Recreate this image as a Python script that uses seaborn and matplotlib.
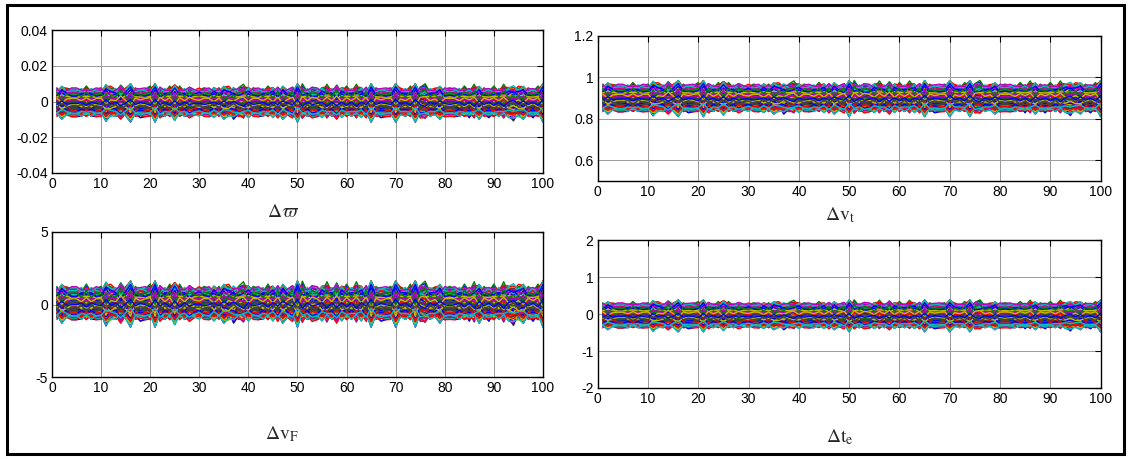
import numpy as np
import pandas as pd
import matplotlib
matplotlib.use("Agg")
import matplotlib.pyplot as plt
from matplotlib.patches import Rectangle
from matplotlib.ticker import FuncFormatter
import seaborn as sns

# sample index (1..100)
steps = list(range(1, 101))

# shared disturbances at each step
spikes = [1, -2, 1, 0, 0, -1, 2, -1, 0, 1,
          -3, 1, -1, 2, 0, -3, 1, -1, 0, 2,
          -3, 1, -1, 2, -2, 2, -1, 1, 0, 0,
          1, 0, -1, 1, -2, 1, -2, 1, 3, -1,
          1, 0, -1, 2, -1, 1, -2, 0, 1, -3,
          3, -1, 1, 0, -1, 3, -1, 2, -1, 2,
          -1, 3, -1, 1, -3, 1, -1, 0, 1, -3,
          1, -1, 2, -3, 1, 3, -1, 1, -2, 0,
          1, 0, -1, 2, -1, 3, -2, 1, -1, 2,
          -1, 3, -1, -3, 1, -2, 1, -1, 2, -3]
drift = [0, 1, 1, -1, -1, 0, 1, 0, -1, 0,
         1, 2, 0, -1, 1, 2, 0, -1, -1, 1,
         2, -1, 0, 1, 2, 1, 0, -1, 0, 1,
         0, -1, 1, 0, 1, 2, -1, 0, 2, 1,
         0, -1, 0, 1, 1, -1, 1, 0, -1, 2,
         1, 0, -1, -1, 1, 2, 0, -1, 1, 1,
         0, 2, 1, -1, 2, 0, -1, -1, 0, 2,
         1, 0, 1, 2, -1, 1, 0, 1, 1, -1,
         0, -1, 0, 1, -1, 2, 1, 0, -1, 1,
         0, 2, 1, -1, 2, 1, 0, -1, 1, 2]

# relative level of each trajectory inside the band (-1 bottom, 1 top)
levels_a = [0.92, -0.85, 0.41, -0.12, 0.67, -0.58, 0.05, 0.78, -0.33, 0.24,
            -0.95, 0.55, -0.71, 0.13, 0.86, -0.22, 0.36, -0.48, 0.97, -0.05,
            0.62, -0.88, 0.19, -0.63, 0.73, -0.28, 0.47, -0.77, 0.09, -0.41,
            0.83, -0.15, 0.31, -0.92, 0.58, -0.53, 0.02, 0.69, -0.37, 0.27,
            -0.67, 0.44, -0.08, 0.89, -0.81, 0.16, -0.45, 0.75, -0.19, 0.51,
            -0.99, 0.38, -0.61, 0.11, 0.94, -0.26, 0.64, -0.74, 0.21, -0.02]
levels_b = [0.88, -0.91, 0.35, -0.18, 0.71, -0.52, 0.00, 0.81, -0.39, 0.29,
            -0.97, 0.60, -0.68, 0.07, 0.90, -0.25, 0.42, -0.44, 0.95, -0.10,
            0.57, -0.83, 0.15, -0.70, 0.77, -0.31, 0.50, -0.79, 0.04, -0.47,
            0.85, -0.20, 0.26, -0.94, 0.63, -0.56, -0.03, 0.66, -0.34, 0.33,
            -0.64, 0.40, -0.13, 0.93, -0.86, 0.19, -0.50, 0.72, -0.23, 0.54,
            -0.96, 0.45, -0.60, 0.17, 0.99, -0.29, 0.60, -0.76, 0.23, -0.07]

# how strongly each trajectory reacts to the disturbances
response_a = [0.9, -0.4, -0.7, 0.5, 0.2, -0.9, 0.8, -0.3, 0.6, -0.6,
              0.8, 0.4, 0.7, -0.2, 0.6, 0.9, -0.5, 0.3, 1.0, -0.7,
              -0.1, 1.0, 0.8, -0.4, 0.3, 0.5, -0.9, 0.1, -0.6, 0.7,
              0.5, -0.8, 0.9, -0.5, -0.3, 0.6, -0.7, 0.2, 0.8, -0.2,
              0.4, -0.6, 1.0, -0.7, -0.9, -0.3, 0.5, -0.1, 0.9, -0.8,
              -0.6, 0.3, 0.7, -0.9, -0.8, 0.2, -0.5, 0.6, -0.4, 0.1]
response_b = [-0.5, 0.7, 0.3, -0.9, 0.6, 0.1, -0.4, 0.8, -0.7, 0.2,
              0.5, -0.6, 0.9, 0.4, -0.3, -0.8, 0.7, 0.1, -0.2, 0.6,
              0.9, -0.4, -0.5, 0.8, -0.1, 0.3, 0.6, -0.9, 0.4, -0.2,
              -0.7, 0.5, 0.2, 0.8, -0.6, -0.3, 0.9, -0.5, 0.1, 0.7,
              -0.8, 0.4, -0.2, 0.6, 0.3, -0.9, 0.5, 0.8, -0.4, 0.2,
              0.7, -0.1, -0.6, 0.5, 0.3, -0.7, 0.9, -0.3, 0.6, -0.5]

# per panel: band centre, band half width, disturbance gain
centres = [-0.0005, 0.90, 0.08, -0.04]
half_widths = [0.0072, 0.060, 1.00, 0.31]
gains = [0.17, 0.16, 0.20, 0.14]

labels = [r"$\Delta\varpi$", r"$\Delta \mathrm{v}_{\mathrm{t}}$",
          r"$\Delta \mathrm{v}_{\mathrm{F}}$", r"$\Delta \mathrm{t}_{\mathrm{e}}$"]
ylims = [(-0.04, 0.04), (0.5, 1.2), (-5, 5), (-2, 2)]
yticks = [[-0.04, -0.02, 0, 0.02, 0.04], [0.6, 0.8, 1.0, 1.2], [-5, 0, 5], [-2, -1, 0, 1, 2]]

matlab_colors = [(0, 0, 1), (0, 0.5, 0), (1, 0, 0), (0, 0.75, 0.75),
                 (0.75, 0, 0.75), (0.75, 0.75, 0), (0.25, 0.25, 0.25)]

sns.set_theme(style="white")
plt.rcParams["font.family"] = ["Liberation Sans", "DejaVu Sans"]
plt.rcParams["axes.unicode_minus"] = False
plt.rcParams["mathtext.fontset"] = "stix"

fig = plt.figure(figsize=(11.3, 4.59), dpi=100)

boxes = [[0.046, 0.6231, 0.4345, 0.3115],
         [0.529, 0.6057, 0.445, 0.3159],
         [0.046, 0.1786, 0.4345, 0.3160],
         [0.529, 0.1547, 0.445, 0.3223]]
label_pos = [(0.251, 0.538), (0.743, 0.532), (0.2496, 0.0545), (0.743, 0.048)]

s1 = np.array(spikes, dtype=float)
s2 = np.array(drift, dtype=float)
fmt = FuncFormatter(lambda v, _: f"{v:g}")

for k in range(4):
    ax = fig.add_axes(boxes[k])
    rows = []
    n = 0
    for i in range(len(levels_a)):
        ya = levels_a[i] + gains[k] * (response_a[i] * s1 + response_b[i] * s2)
        yb = levels_b[i] + gains[k] * (response_b[i] * s1 + response_a[i] * s2)
        for y in (ya, yb):
            rows.append(pd.DataFrame({"step": steps,
                                      "value": centres[k] + half_widths[k] * y,
                                      "line": n}))
            n += 1
    df = pd.concat(rows, ignore_index=True)
    pal = [matlab_colors[i % len(matlab_colors)] for i in range(n)]
    sns.lineplot(data=df, x="step", y="value", hue="line", palette=pal,
                 estimator=None, sort=False, legend=False, linewidth=1.0, ax=ax)

    ax.set_xlim(0, 100)
    ax.set_ylim(*ylims[k])
    ax.set_xticks(range(0, 101, 10))
    ax.set_yticks(yticks[k])
    ax.yaxis.set_major_formatter(fmt)
    ax.grid(True, color="#9a9a9a", linewidth=0.7, linestyle="-")
    ax.set_axisbelow(True)
    ax.set_xlabel("")
    ax.set_ylabel("")
    ax.tick_params(direction="in", length=4, width=0.8, top=True, right=True,
                   labelsize=10, colors="black", pad=3)
    for sp in ax.spines.values():
        sp.set_color("black")
        sp.set_linewidth(1.0)
    fig.text(label_pos[k][0], label_pos[k][1], labels[k], ha="center", va="center",
             fontsize=14)

# outer frame
fig.patches.append(Rectangle((0.006, 0.01), 0.989, 0.979, transform=fig.transFigure,
                             fill=False, edgecolor="black", linewidth=2.2))

fig.savefig("out.png", dpi=100)
